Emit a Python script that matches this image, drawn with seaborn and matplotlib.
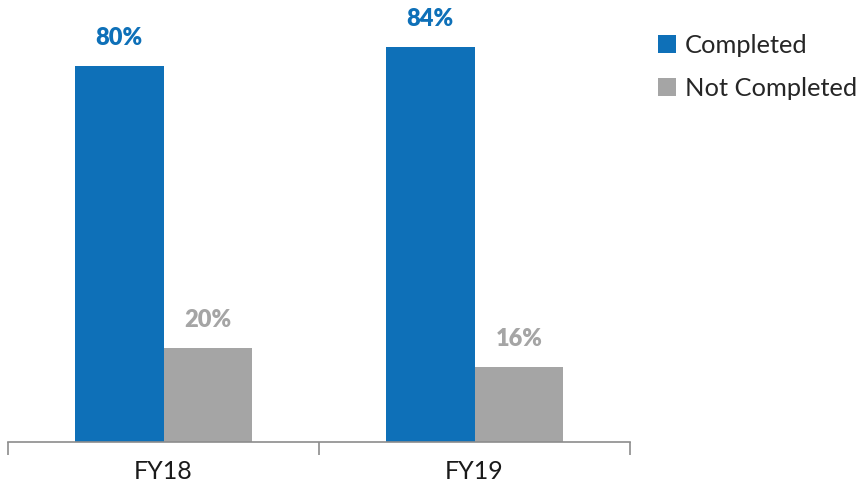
import matplotlib
matplotlib.use("Agg")
import matplotlib.pyplot as plt
import seaborn as sns
import pandas as pd
from matplotlib.patches import Patch

categories = ["FY18", "FY19"]
series = ["Completed", "Not Completed"]
completed = [80, 84]
not_completed = [20, 16]
colors = ["#0E70B8", "#A5A5A5"]

df = pd.DataFrame({
    "year": categories * 2,
    "status": [series[0]] * len(categories) + [series[1]] * len(categories),
    "value": completed + not_completed,
})

sns.set_theme(style="white")
plt.rcParams["font.family"] = ["Lato", "DejaVu Sans"]

fig = plt.figure(figsize=(8.58, 4.92), dpi=100)
ax = fig.add_axes([8 / 858, 50 / 492, 622 / 858, 421 / 492])

sns.barplot(data=df, x="year", y="value", hue="status", hue_order=series,
            palette=colors, width=0.572, saturation=1, ax=ax, legend=False,
            linewidth=0)

ax.set_xlim(-0.5, 1.5)
ax.set_ylim(0, 89.5)
ax.set_xlabel("")
ax.set_ylabel("")
ax.set_yticks([])
for s in ["top", "right", "left"]:
    ax.spines[s].set_visible(False)
ax.spines["bottom"].set_color("#8C8C8C")
ax.spines["bottom"].set_linewidth(1.2)

ax.tick_params(axis="x", which="major", bottom=False, length=0, pad=13,
               labelsize=18, labelcolor="#1a1a1a")
ax.set_xticks([-0.5, 0.5, 1.5], minor=True)
ax.tick_params(axis="x", which="minor", bottom=True, direction="out", length=9,
               width=1.2, color="#8C8C8C")

for container, col in zip(ax.containers, colors):
    labels = [f"{v:.0f}%" for v in container.datavalues]
    ax.bar_label(container, labels=labels, padding=12, color=col,
                 fontsize=17, fontweight="heavy")

handles = [Patch(facecolor=c, edgecolor="none", label=l) for c, l in zip(colors, series)]
fig.legend(handles=handles, loc="upper left", bbox_to_anchor=(658 / 858, 1 - 34 / 492),
           frameon=False, fontsize=18.3, handlelength=0.72, handleheight=0.72,
           handletextpad=0.35, labelspacing=0.78, borderaxespad=0, borderpad=0)

fig.savefig("out.png", dpi=100)
